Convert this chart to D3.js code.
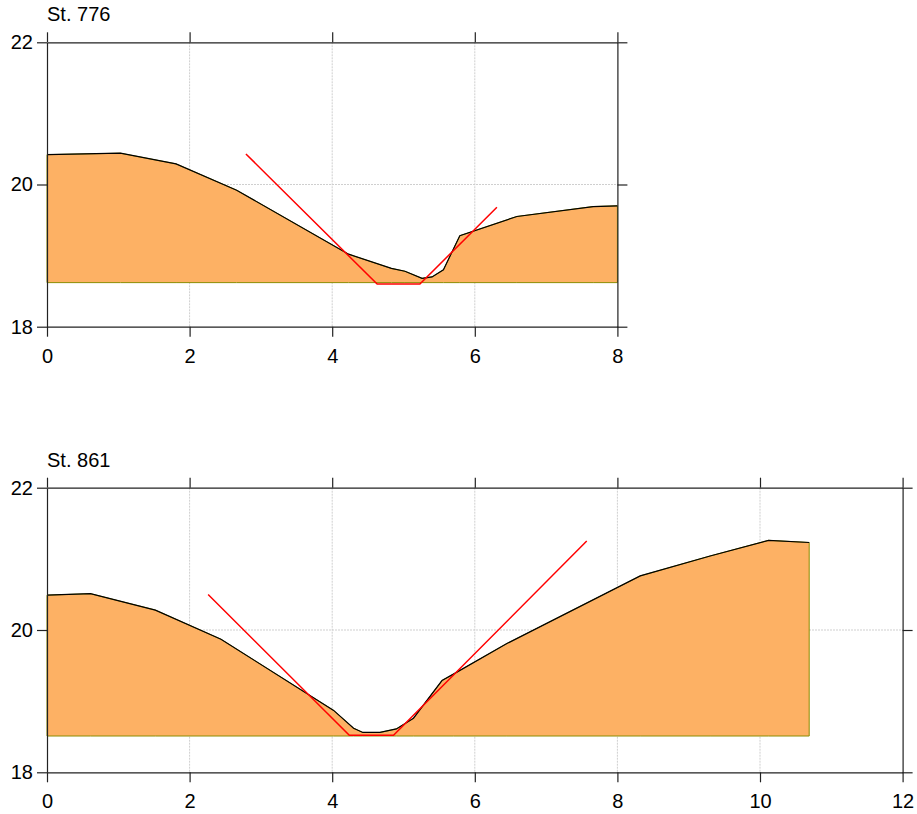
<!DOCTYPE html>
<html>
<head>
<meta charset="utf-8">
<script src="https://cdn.jsdelivr.net/npm/d3@7"></script>
<style>
  html, body { margin: 0; padding: 0; background: #fff; }
  svg { display: block; font-family: "Liberation Sans", Arial, sans-serif; }
</style>
</head>
<body>
<svg id="chart" width="917" height="814"></svg>
<script>
// ---- Data ----
const titles = ["St. 776", "St. 861"];

// St. 776 ground profile
const dist776 = [0, 1.03, 1.81, 2.66, 4.23, 4.83, 5.02, 5.26, 5.40, 5.56, 5.79, 6.59, 7.66, 8.0];
const elev776 = [20.42, 20.44, 20.29, 19.92, 19.02, 18.82, 18.78, 18.68, 18.70, 18.80, 19.28, 19.55, 19.69, 19.70];
const base776 = 18.62;
const sectDist776 = [2.79, 4.63, 5.23, 6.31];
const sectElev776 = [20.43, 18.60, 18.60, 19.68];

// St. 861 ground profile
const dist861 = [0, 0.61, 1.52, 2.44, 4.02, 4.30, 4.43, 4.67, 4.90, 5.14, 5.54, 5.70, 6.45, 8.32, 9.30, 10.12, 10.69];
const elev861 = [20.49, 20.51, 20.28, 19.87, 18.87, 18.62, 18.56, 18.56, 18.61, 18.76, 19.29, 19.38, 19.81, 20.76, 21.04, 21.26, 21.23];
const base861 = 18.51;
const sectDist861 = [2.26, 4.24, 4.86, 7.57];
const sectElev861 = [20.50, 18.52, 18.52, 21.25];

const xTicks776 = [0, 2, 4, 6, 8];
const xTicks861 = [0, 2, 4, 6, 8, 10, 12];
const yTicks = [18, 20, 22];

// ---- Drawing ----
const svg = d3.select("#chart");
const fillColor = "#fdb164";
const oliveColor = "#8c8c00";
const axisColor = "#222";
const gridColor = "#cfcfcf";

function panel(opts) {
  const { title, dist, elev, base, sDist, sElev, xMax, xTicks, left, right, top, bottom } = opts;
  const x = d3.scaleLinear().domain([0, xMax]).range([left, right]);
  const y = d3.scaleLinear().domain([18, 22]).range([bottom, top]);
  const g = svg.append("g");

  // grid
  g.append("g").selectAll("line.gx").data(xTicks.filter(t => t > 0 && t < xMax)).join("line")
    .attr("x1", d => x(d)).attr("x2", d => x(d)).attr("y1", top).attr("y2", bottom)
    .attr("stroke", gridColor).attr("stroke-width", 1).attr("stroke-dasharray", "2,1");
  g.append("g").selectAll("line.gy").data(yTicks.filter(t => t > 18 && t < 22)).join("line")
    .attr("x1", left).attr("x2", right).attr("y1", d => y(d)).attr("y2", d => y(d))
    .attr("stroke", gridColor).attr("stroke-width", 1).attr("stroke-dasharray", "2,1");

  const pts = dist.map((d, i) => [d, elev[i]]);

  // filled area
  const area = d3.area().x(d => x(d[0])).y0(y(base)).y1(d => y(d[1]));
  g.append("path").datum(pts).attr("d", area)
    .attr("fill", fillColor).attr("stroke", oliveColor).attr("stroke-width", 1);

  // ground line
  const line = d3.line().x(d => x(d[0])).y(d => y(d[1]));
  g.append("path").datum(pts).attr("d", line)
    .attr("fill", "none").attr("stroke", "#000").attr("stroke-width", 1.2);

  // design section (red)
  const spts = sDist.map((d, i) => [d, sElev[i]]);
  g.append("path").datum(spts).attr("d", line)
    .attr("fill", "none").attr("stroke", "#ff0000").attr("stroke-width", 1.5);

  // axes
  const fs = "20px";
  const axB = g.append("g").attr("transform", `translate(0,${bottom})`)
    .call(d3.axisBottom(x).tickValues(xTicks).tickSize(10).tickPadding(12).tickSizeOuter(0).tickFormat(d3.format("d")));
  const axT = g.append("g").attr("transform", `translate(0,${top})`)
    .call(d3.axisTop(x).tickValues(xTicks).tickSize(10).tickSizeOuter(0).tickFormat(""));
  const axL = g.append("g").attr("transform", `translate(${left},0)`)
    .call(d3.axisLeft(y).tickValues(yTicks).tickSize(10).tickPadding(4).tickSizeOuter(0).tickFormat(d3.format("d")));
  const axR = g.append("g").attr("transform", `translate(${right},0)`)
    .call(d3.axisRight(y).tickValues(yTicks).tickSize(10).tickSizeOuter(0).tickFormat(""));
  [axB, axT, axL, axR].forEach(a => {
    a.select(".domain").attr("stroke", axisColor).attr("stroke-width", 1.2);
    a.selectAll(".tick line").attr("stroke", axisColor).attr("stroke-width", 1.2);
    a.selectAll(".tick text").attr("fill", "#000").style("font-size", fs)
      .style("font-family", '"Liberation Sans", Arial, sans-serif');
  });

  // title
  g.append("text").attr("x", left).attr("y", top - 21).text(title)
    .attr("fill", "#000").style("font-size", "20px");
}

panel({ title: titles[0], dist: dist776, elev: elev776, base: base776,
  sDist: sectDist776, sElev: sectElev776, xMax: 8, xTicks: xTicks776,
  left: 47, right: 617.4, top: 42.3, bottom: 326.7 });

panel({ title: titles[1], dist: dist861, elev: elev861, base: base861,
  sDist: sectDist861, sElev: sectElev861, xMax: 12, xTicks: xTicks861,
  left: 47, right: 902.6, top: 487.7, bottom: 772.3 });
</script>
</body>
</html>
